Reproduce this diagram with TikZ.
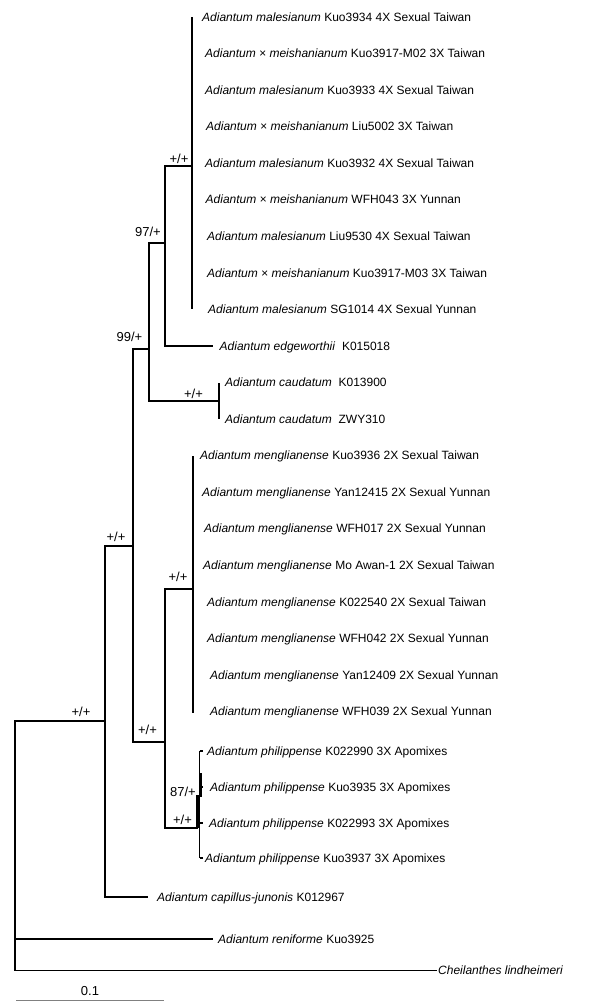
\documentclass[tikz,border=0pt]{standalone}
\usepackage{fontspec}
\setmainfont{Liberation Sans}
\begin{document}
\begin{tikzpicture}[x=1pt,y=-1pt,
  br/.style={line width=1.7pt},
  thinbr/.style={line width=1.2pt},
  heavybr/.style={line width=2.6pt},
  tip/.style={anchor=base west, inner sep=0pt, font=\fontsize{12}{14}\selectfont},
  bs/.style={anchor=base, inner sep=0pt, font=\fontsize{13}{15}\selectfont},
  scalebar/.style={line width=1pt, draw=black!50}]
\useasboundingbox (0,0) rectangle (594,1003);
% internal nodes
\coordinate (R) at (15,846);
\coordinate (N1) at (105,721);
\coordinate (N2) at (133.3,546);
\coordinate (N3) at (149.3,349);
\coordinate (N4) at (165,243);
\coordinate (N5) at (192,166);
\coordinate (NC) at (219,401);
\coordinate (N7) at (165,742);
\coordinate (N8) at (193,589);
\coordinate (N9) at (197.6,828);
% tips
\coordinate (m1) at (192,17);
\coordinate (m9) at (192,309.4);
\coordinate (ed) at (213,346);
\coordinate (c1) at (219,382.5);
\coordinate (c2) at (219,419);
\coordinate (g1) at (193,455.6);
\coordinate (g8) at (193,712.5);
\coordinate (p1) at (199.5,751);
\coordinate (p2) at (199.5,787);
\coordinate (p3) at (199.5,823);
\coordinate (p4) at (199.5,858);
\coordinate (cj) at (148,897);
\coordinate (ren) at (213,939);
\coordinate (che) at (436.7,970.7);
\coordinate (q1) at (200.8,773);
\coordinate (q2) at (200.8,797);
\coordinate (q3) at (197.6,795);
% branches
\draw[br] (R) |- (N1);
\draw[br] (R) -- (R |- che);
\draw[thinbr] (R |- ren) -- (ren);
\draw[thinbr] (R |- che) -- (che);
\draw[br] (N1) |- (N2);
\draw[br] (N1) |- (cj);
\draw[br] (N2) |- (N3);
\draw[br] (N2) |- (N7);
\draw[br] (N3) |- (N4);
\draw[br] (N3) |- (NC);
\draw[br] (N4) |- (N5);
\draw[br] (N4) |- (ed);
\draw[br] (N5) |- (m1);
\draw[br] (N5) |- (m9);
\draw[br] (NC) |- (c1);
\draw[br] (NC) |- (c2);
\draw[br] (N7) |- (N8);
\draw[br] (N7) |- (N9);
\draw[br] (N8) |- (g1);
\draw[br] (N8) |- (g8);
\draw[thinbr] (p1) -- (p4);
\draw[heavybr] (q3) -- (N9);
\draw[heavybr] (q1) -- (q2);
\foreach \p in {p1,p2,p3,p4} \draw[thinbr] (\p) -- ++(3.5,0);
% support values
\node[bs] (s1) at (179,163.5) {+/+};
\node[bs] (s2) at (148,236.5) {97/+};
\node[bs] (s3) at (129.5,341.5) {99/+};
\node[bs] (s4) at (193.5,398.5) {+/+};
\node[bs] (s5) at (116,541.5) {+/+};
\node[bs] (s6) at (178,581.5) {+/+};
\node[bs] (s7) at (81,716.5) {+/+};
\node[bs] (s8) at (147.5,734.5) {+/+};
\node[bs] (s9) at (183,796.5) {87/+};
\node[bs] (s10) at (182.5,824.5) {+/+};
% tip labels
\node[tip] (l1) at (202,21.2) {\textit{Adiantum malesianum} Kuo3934 4X Sexual Taiwan};
\node[tip] (l2) at (205,57.75) {\textit{Adiantum × meishanianum} Kuo3917-M02 3X Taiwan};
\node[tip] (l3) at (205,94.3) {\textit{Adiantum malesianum} Kuo3933 4X Sexual Taiwan};
\node[tip] (l4) at (206,130.85) {\textit{Adiantum × meishanianum} Liu5002 3X Taiwan};
\node[tip] (l5) at (205,167.4) {\textit{Adiantum malesianum} Kuo3932 4X Sexual Taiwan};
\node[tip] (l6) at (205.5,203.95) {\textit{Adiantum × meishanianum} WFH043 3X Yunnan};
\node[tip] (l7) at (207,240.5) {\textit{Adiantum malesianum} Liu9530 4X Sexual Taiwan};
\node[tip] (l8) at (207,277.05) {\textit{Adiantum × meishanianum} Kuo3917-M03 3X Taiwan};
\node[tip] (l9) at (208,313.6) {\textit{Adiantum malesianum} SG1014 4X Sexual Yunnan};
\node[tip] (l10) at (219.5,350.2) {\textit{Adiantum edgeworthii}\ \ K015018};
\node[tip] (l11) at (225,386.7) {\textit{Adiantum caudatum}\ \ K013900};
\node[tip] (l12) at (225,423.25) {\textit{Adiantum caudatum}\ \ ZWY310};
\node[tip] (l13) at (200,459.8) {\textit{Adiantum menglianense} Kuo3936 2X Sexual Taiwan};
\node[tip] (l14) at (202,496.35) {\textit{Adiantum menglianense} Yan12415 2X Sexual Yunnan};
\node[tip] (l15) at (204,532.9) {\textit{Adiantum menglianense} WFH017 2X Sexual Yunnan};
\node[tip] (l16) at (203,569.45) {\textit{Adiantum menglianense} Mo Awan-1 2X Sexual Taiwan};
\node[tip] (l17) at (207,606) {\textit{Adiantum menglianense} K022540 2X Sexual Taiwan};
\node[tip] (l18) at (207,642.55) {\textit{Adiantum menglianense} WFH042 2X Sexual Yunnan};
\node[tip] (l19) at (210,679.1) {\textit{Adiantum menglianense} Yan12409 2X Sexual Yunnan};
\node[tip] (l20) at (210,715.65) {\textit{Adiantum menglianense} WFH039 2X Sexual Yunnan};
\node[tip] (l21) at (207,755.2) {\textit{Adiantum philippense} K022990 3X Apomixes};
\node[tip] (l22) at (210,791.2) {\textit{Adiantum philippense} Kuo3935 3X Apomixes};
\node[tip] (l23) at (209,827.2) {\textit{Adiantum philippense} K022993 3X Apomixes};
\node[tip] (l24) at (205,862.2) {\textit{Adiantum philippense} Kuo3937 3X Apomixes};
\node[tip] (l25) at (157,901.2) {\textit{Adiantum capillus-junonis} K012967};
\node[tip] (l26) at (218,943.2) {\textit{Adiantum reniforme} Kuo3925};
\node[tip] (l27) at (438,974.7) {\textit{Cheilanthes lindheimeri}};
% scale bar
\coordinate (sb0) at (16,1000.5);
\coordinate (sb1) at (164,1000.5);
\draw[scalebar] (sb0) -- (sb1);
\node[bs] (sbl) at (90,995.5) {0.1};
\end{tikzpicture}
\end{document}
